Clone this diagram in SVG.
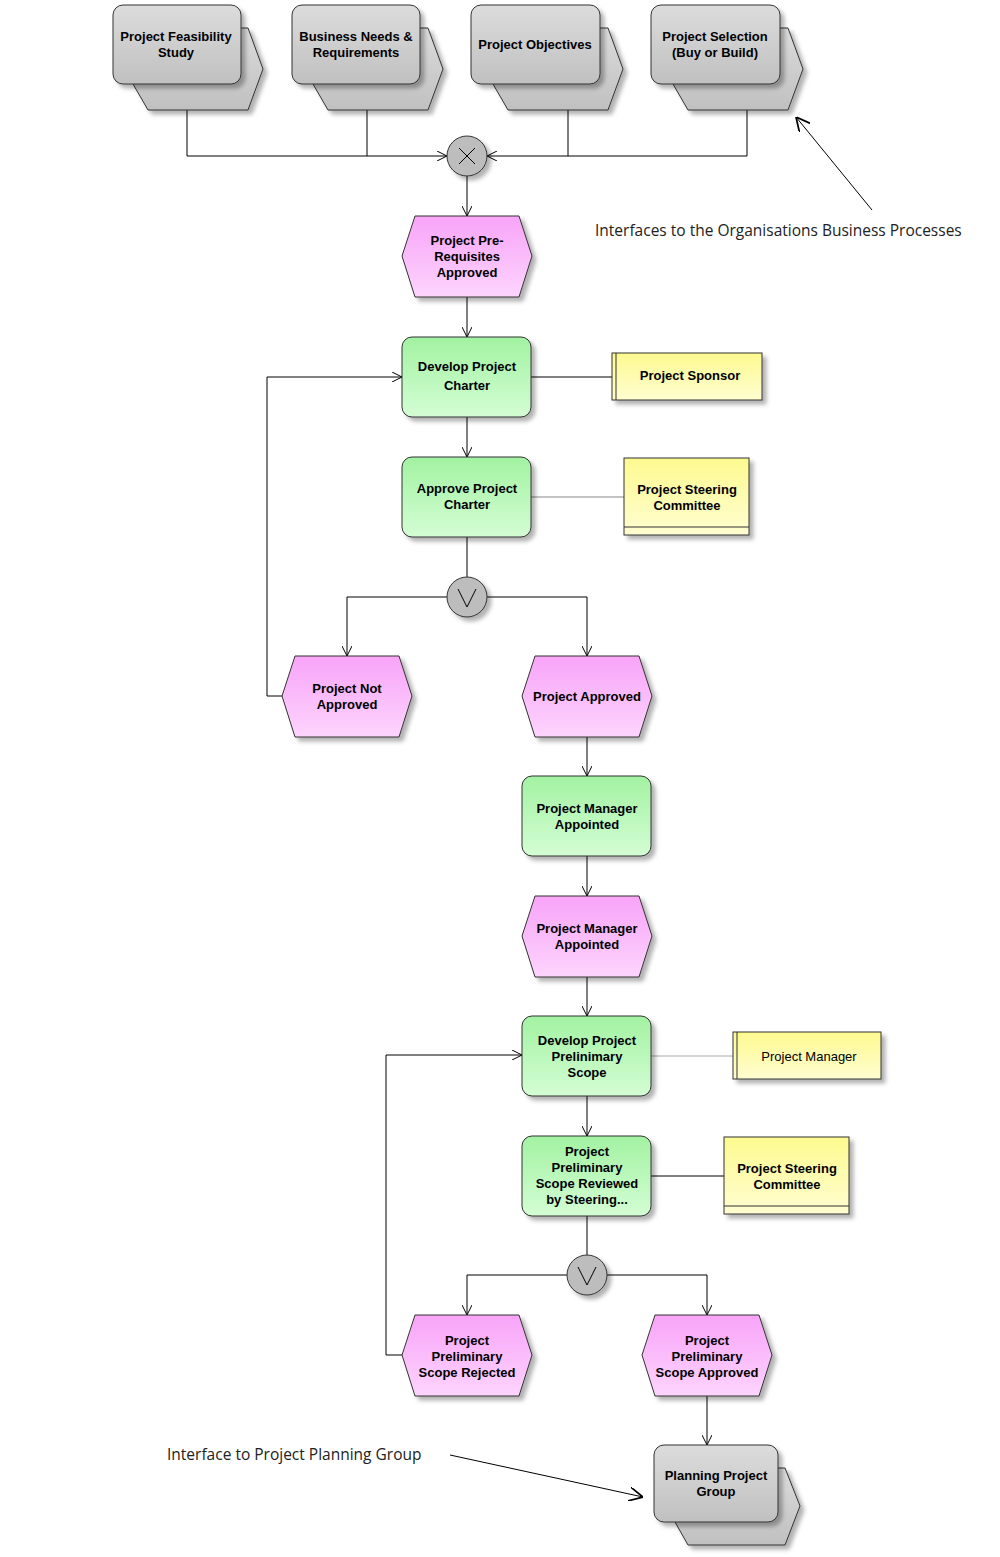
<svg xmlns="http://www.w3.org/2000/svg" width="1000" height="1557" viewBox="0 0 1000 1557">
<style>
text{font-family:"Liberation Sans",Arial,sans-serif;font-size:13px;font-weight:bold;fill:#000;text-anchor:middle}
.ann{font-family:"Open Sans","Liberation Sans",sans-serif;font-size:15.5px;font-weight:normal;text-anchor:start;fill:#222}
.c{fill:none;stroke:#000;stroke-width:1}
.ev{fill:url(#gp);stroke:#333;stroke-width:1;filter:url(#sh)}
.fn{fill:url(#gg);stroke:#333;stroke-width:1;filter:url(#sh)}
.pi{fill:url(#gy);stroke:#333;stroke-width:1;filter:url(#sh)}
.rs{fill:url(#gl);stroke:#333;stroke-width:1;filter:url(#sh)}
.gt{fill:#bdbdbd;stroke:#333;stroke-width:1;filter:url(#sh)}
</style>
<defs>
<linearGradient id="gp" x1="0" y1="0" x2="0" y2="1"><stop offset="0" stop-color="#f8a4f8"/><stop offset="1" stop-color="#fdd4fd"/></linearGradient>
<linearGradient id="gg" x1="0" y1="0" x2="0" y2="1"><stop offset="0" stop-color="#a2f2a2"/><stop offset="1" stop-color="#d4fdd4"/></linearGradient>
<linearGradient id="gy" x1="0" y1="0" x2="0" y2="1"><stop offset="0" stop-color="#dcdcdc"/><stop offset="1" stop-color="#c0c0c0"/></linearGradient>
<linearGradient id="gl" x1="0" y1="0" x2="0" y2="1"><stop offset="0" stop-color="#fdfa90"/><stop offset="1" stop-color="#fffdd0"/></linearGradient>
<filter id="sh" x="-10%" y="-10%" width="130%" height="130%"><feDropShadow dx="4" dy="4" stdDeviation="2" flood-color="#000" flood-opacity="0.3"/></filter>
<marker id="a" viewBox="0 0 10 10" refX="10" refY="5" markerWidth="10" markerHeight="10" orient="auto" markerUnits="userSpaceOnUse"><path d="M0,0 L10,5 L0,10" fill="none" stroke="#000"/></marker>
<marker id="b" viewBox="0 0 12 12" refX="12" refY="6" markerWidth="14" markerHeight="14" orient="auto" markerUnits="userSpaceOnUse"><path d="M0,0 L12,6 L0,12" fill="none" stroke="#000" stroke-width="1.5"/></marker>
</defs>

<g id="connectors">
<path class="c" d="M187,110 V156 H447" marker-end="url(#a)"/>
<path class="c" d="M367,110 V156"/>
<path class="c" d="M568,110 V156"/>
<path class="c" d="M747,110 V156 H487" marker-end="url(#a)"/>
<path class="c" d="M467,176 V216" marker-end="url(#a)"/>
<path class="c" d="M467,297 V337" marker-end="url(#a)"/>
<path class="c" d="M531,377 H612"/>
<path class="c" d="M467,417 V457" marker-end="url(#a)"/>
<path d="M531,497 H624" stroke="#888" fill="none"/>
<path class="c" d="M467,537 V577"/>
<path class="c" d="M447,597 H347 V656" marker-end="url(#a)"/>
<path class="c" d="M487,597 H587 V656" marker-end="url(#a)"/>
<path class="c" d="M282,696 H267 V377 H402" marker-end="url(#a)"/>
<path class="c" d="M587,737 V776" marker-end="url(#a)"/>
<path class="c" d="M587,856 V896" marker-end="url(#a)"/>
<path class="c" d="M587,977 V1016" marker-end="url(#a)"/>
<path d="M651,1056 H733" stroke="#aaa" fill="none"/>
<path class="c" d="M587,1096 V1136" marker-end="url(#a)"/>
<path class="c" d="M651,1176 H724"/>
<path class="c" d="M587,1216 V1255"/>
<path class="c" d="M567,1275 H467 V1315" marker-end="url(#a)"/>
<path class="c" d="M607,1275 H707 V1315" marker-end="url(#a)"/>
<path class="c" d="M402,1355 H386 V1055 H522" marker-end="url(#a)"/>
<path class="c" d="M707,1396 V1445" marker-end="url(#a)"/>
<path class="c" d="M872,210 L796,117" marker-end="url(#b)" stroke-width="1.5"/>
<path class="c" d="M450,1455 L643,1497" marker-end="url(#b)" stroke-width="1.5"/>
</g>

<g id="pi1"><polygon class="pi" points="126,28 248,28 263,69 248,110 148,110 133,84"/><rect class="pi" x="113" y="5" width="128" height="79" rx="10"/><text x="176" y="41">Project Feasibility</text><text x="176" y="57">Study</text></g>
<g id="pi2"><polygon class="pi" points="306,28 428,28 443,69 428,110 328,110 313,84"/><rect class="pi" x="292" y="5" width="128" height="79" rx="10"/><text x="356" y="41">Business Needs &amp;</text><text x="356" y="57">Requirements</text></g>
<g id="pi3"><polygon class="pi" points="486,28 608,28 623,69 608,110 508,110 493,84"/><rect class="pi" x="471" y="5" width="129" height="79" rx="10"/><text x="535" y="49">Project Objectives</text></g>
<g id="pi4"><polygon class="pi" points="666,28 788,28 803,69 788,110 688,110 673,84"/><rect class="pi" x="651" y="5" width="129" height="79" rx="10"/><text x="715" y="41">Project Selection</text><text x="715" y="57">(Buy or Build)</text></g>

<g id="xor"><circle class="gt" cx="467" cy="156" r="20"/><path d="M459,148 L475,164 M475,148 L459,164" stroke="#000"/></g>
<g id="e1"><polygon class="ev" points="415,216 519,216 532,256 519,297 415,297 402,256"/><text x="467" y="245">Project Pre-</text><text x="467" y="261">Requisites</text><text x="467" y="277">Approved</text></g>
<g id="f1"><rect class="fn" x="402" y="337" width="129" height="80" rx="10"/><text x="467" y="371">Develop Project</text><text x="467" y="390">Charter</text></g>
<g id="r1"><rect class="rs" x="612" y="353" width="150" height="47"/><line x1="616" y1="353" x2="616" y2="400" stroke="#333"/><text x="690" y="380">Project Sponsor</text></g>
<g id="f2"><rect class="fn" x="402" y="457" width="129" height="80" rx="10"/><text x="467" y="493">Approve Project</text><text x="467" y="509">Charter</text></g>
<g id="r2"><rect class="rs" x="624" y="458" width="125" height="77"/><line x1="624" y1="527" x2="749" y2="527" stroke="#333"/><text x="687" y="494">Project Steering</text><text x="687" y="510">Committee</text></g>
<g id="or1"><circle class="gt" cx="467" cy="597" r="20"/><path d="M458,589 L467,607 L476,589" fill="none" stroke="#000"/></g>
<g id="e2"><polygon class="ev" points="295,656 399,656 412,696 399,737 295,737 282,696"/><text x="347" y="693">Project Not</text><text x="347" y="709">Approved</text></g>
<g id="e3"><polygon class="ev" points="535,656 639,656 652,696 639,737 535,737 522,696"/><text x="587" y="701">Project Approved</text></g>
<g id="f3"><rect class="fn" x="522" y="776" width="129" height="80" rx="10"/><text x="587" y="813">Project Manager</text><text x="587" y="829">Appointed</text></g>
<g id="e4"><polygon class="ev" points="535,896 639,896 652,936 639,977 535,977 522,936"/><text x="587" y="933">Project Manager</text><text x="587" y="949">Appointed</text></g>
<g id="f4"><rect class="fn" x="522" y="1016" width="129" height="80" rx="10"/><text x="587" y="1045">Develop Project</text><text x="587" y="1061">Prelinimary</text><text x="587" y="1077">Scope</text></g>
<g id="r3"><rect class="rs" x="733" y="1032" width="148" height="47"/><line x1="737" y1="1032" x2="737" y2="1079" stroke="#333"/><text x="809" y="1061" style="font-weight:normal">Project Manager</text></g>
<g id="f5"><rect class="fn" x="522" y="1136" width="129" height="80" rx="10"/><text x="587" y="1156">Project</text><text x="587" y="1172">Preliminary</text><text x="587" y="1188">Scope Reviewed</text><text x="587" y="1204">by Steering...</text></g>
<g id="r4"><rect class="rs" x="724" y="1137" width="125" height="77"/><line x1="724" y1="1206" x2="849" y2="1206" stroke="#333"/><text x="787" y="1173">Project Steering</text><text x="787" y="1189">Committee</text></g>
<g id="or2"><circle class="gt" cx="587" cy="1275" r="20"/><path d="M578,1267 L587,1285 L596,1267" fill="none" stroke="#000"/></g>
<g id="e5"><polygon class="ev" points="415,1315 519,1315 532,1355 519,1396 415,1396 402,1355"/><text x="467" y="1345">Project</text><text x="467" y="1361">Preliminary</text><text x="467" y="1377">Scope Rejected</text></g>
<g id="e6"><polygon class="ev" points="655,1315 759,1315 772,1355 759,1396 655,1396 642,1355"/><text x="707" y="1345">Project</text><text x="707" y="1361">Preliminary</text><text x="707" y="1377">Scope Approved</text></g>
<g id="pi5"><polygon class="pi" points="668,1468 785,1468 800,1506 785,1545 688,1545 675,1522"/><rect class="pi" x="654" y="1445" width="124" height="77" rx="10"/><text x="716" y="1480">Planning Project</text><text x="716" y="1496">Group</text></g>

<text class="ann" x="595" y="236">Interfaces to the  Organisations Business Processes</text>
<text class="ann" x="167" y="1460">Interface to Project Planning Group</text>
</svg>
